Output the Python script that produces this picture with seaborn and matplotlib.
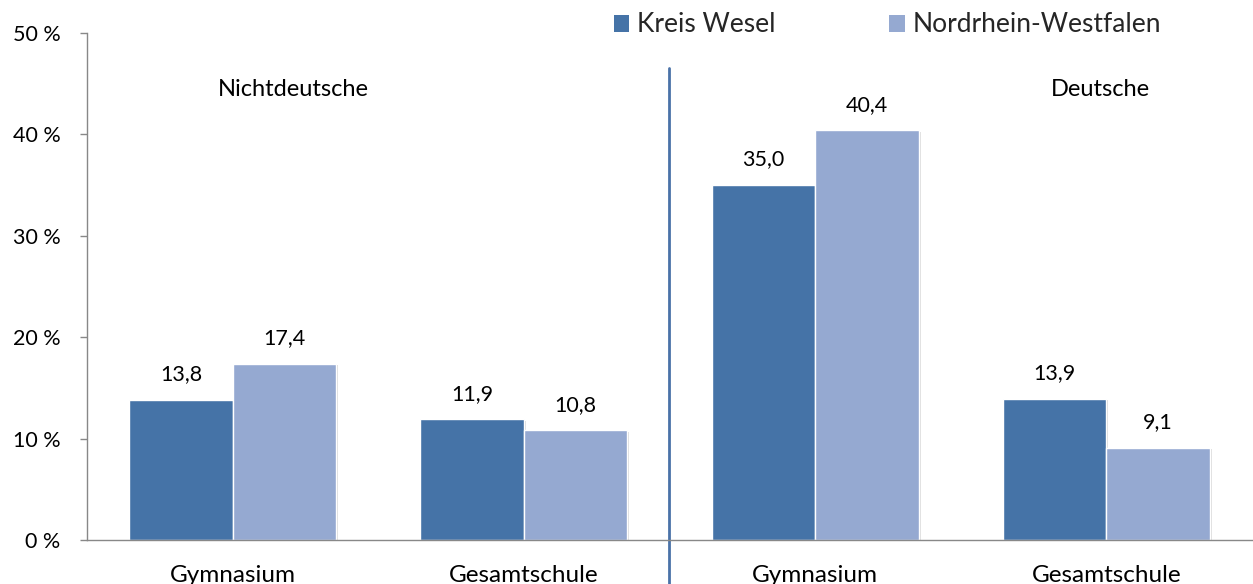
import matplotlib
matplotlib.use("Agg")
import matplotlib.pyplot as plt
import matplotlib.patheffects as pe
import seaborn as sns
import pandas as pd
from matplotlib.patches import Patch

# Data
groups = ["Nichtdeutsche", "Nichtdeutsche", "Deutsche", "Deutsche"]
schools = ["Gymnasium", "Gesamtschule", "Gymnasium", "Gesamtschule"]
kreis_wesel = [13.8, 11.9, 35.0, 13.9]
nrw = [17.4, 10.8, 40.4, 9.1]
series = ["Kreis Wesel", "Nordrhein-Westfalen"]
colors = ["#4573a7", "#95a9d1"]
y_ticks = [0, 10, 20, 30, 40, 50]

cats = [f"{g} {s}" for g, s in zip(groups, schools)]
df = pd.DataFrame({
    "cat": cats * 2,
    "val": kreis_wesel + nrw,
    "series": [series[0]] * 4 + [series[1]] * 4,
})

sns.set_theme(style="white")
plt.rcParams["font.family"] = ["Lato", "DejaVu Sans"]

fig = plt.figure(figsize=(12.53, 5.84), dpi=100)
ax = fig.add_axes([87 / 1253, 1 - 540 / 584, 1 - 87 / 1253 - 0.0008, (540 - 33) / 584])

sns.barplot(data=df, x="cat", y="val", hue="series", order=cats, hue_order=series,
            palette=colors, width=0.71, ax=ax, saturation=1, edgecolor="white",
            linewidth=1, legend=False)

shadow = [pe.SimplePatchShadow(offset=(1.5, -1), shadow_rgbFace="#999999", alpha=0.35), pe.Normal()]
for cont in ax.containers:
    for bar in cont:
        bar.set_path_effects(shadow)

ax.set_xlim(-0.5, 3.5)
ax.set_ylim(0, 50)
ax.set_yticks(y_ticks)
ax.set_yticklabels([f"{t} %" for t in y_ticks], fontsize=15.5, color="black")
ax.set_xticks(range(4))
ax.set_xticklabels(schools, fontsize=17.5, color="black")
ax.set_xticks([-0.5, 0.5, 1.5, 2.5, 3.5], minor=True)
ax.tick_params(axis="x", which="major", length=0, pad=18)
ax.tick_params(axis="x", which="minor", length=6, width=1, color="#888888", direction="out")
ax.tick_params(axis="y", which="major", length=5, width=1, color="#888888", direction="out", pad=14, left=True)
ax.set_xlabel("")
ax.set_ylabel("")

for s in ["top", "right"]:
    ax.spines[s].set_visible(False)
for s in ["left", "bottom"]:
    ax.spines[s].set_color("#888888")
    ax.spines[s].set_linewidth(1)

# value labels
for cont in ax.containers:
    for bar in cont:
        h = bar.get_height()
        ax.annotate(f"{h:.1f}".replace(".", ","),
                    (bar.get_x() + bar.get_width() / 2, h),
                    xytext=(0, 18.5), textcoords="offset points",
                    ha="center", va="center", fontsize=15.5, color="black")

# group labels
ax.text(0.21, 44.4, "Nichtdeutsche", ha="center", va="center", fontsize=17, color="black")
ax.text(2.98, 44.4, "Deutsche", ha="center", va="center", fontsize=17, color="black")

# separator line
ax.plot([1.5, 1.5], [46.5, -5], color="#4a72a8", linewidth=2, clip_on=False)

handles = [Patch(facecolor=c, edgecolor="none") for c in colors]
fig.legend(handles, series, loc="center left", bbox_to_anchor=(603 / 1253, 1 - 25 / 584),
           ncol=2, frameon=False, fontsize=19, handlelength=0.6, handleheight=0.6,
           handletextpad=0.3, columnspacing=4.3, borderaxespad=0)

fig.savefig("out.png", dpi=100)
